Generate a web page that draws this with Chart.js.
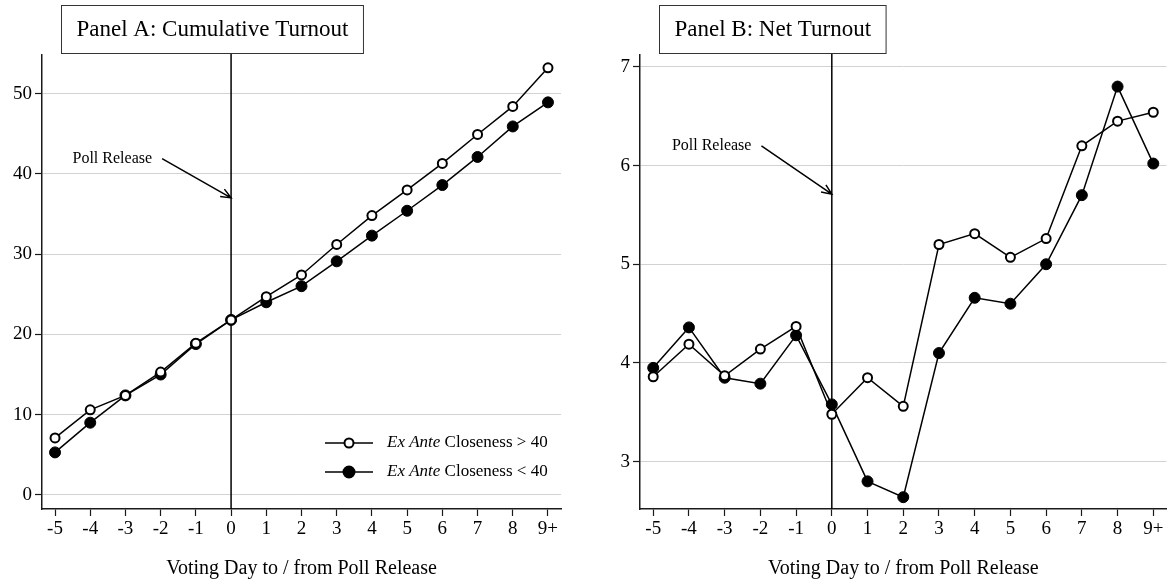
<!DOCTYPE html>
<html>
<head>
<meta charset="utf-8">
<script src="https://cdn.jsdelivr.net/npm/chart.js@4.4.1/dist/chart.umd.min.js"></script>
<style>
  html, body { margin: 0; padding: 0; background: #fff; }
  #wrap { position: relative; width: 1173px; height: 586px; }
  .panel { position: absolute; top: 0; height: 586px; }
  #panelA { left: 0; width: 586px; }
  #panelB { left: 586px; width: 587px; }
</style>
</head>
<body>
<div id="wrap">
  <div class="panel" id="panelA"><canvas id="chartA"></canvas></div>
  <div class="panel" id="panelB"><canvas id="chartB"></canvas></div>
</div>
<script>
// Data
const days = [-5, -4, -3, -2, -1, 0, 1, 2, 3, 4, 5, 6, 7, 8, 9];
const dayLabels = ['-5', '-4', '-3', '-2', '-1', '0', '1', '2', '3', '4', '5', '6', '7', '8', '9+'];

// Panel A: cumulative turnout
const cumHigh = [7.1, 10.6, 12.4, 15.3, 18.9, 21.8, 24.7, 27.4, 31.2, 34.8, 38.0, 41.3, 44.9, 48.4, 53.2];
const cumLow = [5.3, 9.0, 12.4, 15.0, 18.8, 21.8, 24.0, 26.0, 29.1, 32.3, 35.4, 38.6, 42.1, 45.9, 48.9];
const cumTicks = [0, 10, 20, 30, 40, 50];

// Panel B: net turnout
const netHigh = [3.86, 4.19, 3.87, 4.14, 4.37, 3.48, 3.85, 3.56, 5.20, 5.31, 5.07, 5.26, 6.20, 6.45, 6.54];
const netLow = [3.95, 4.36, 3.85, 3.79, 4.28, 3.58, 2.80, 2.64, 4.10, 4.66, 4.60, 5.00, 5.70, 6.80, 6.02];
const netTicks = [3, 4, 5, 6, 7];

const SERIF = "'Liberation Serif', 'Times New Roman', serif";
const INK = '#1a1a1a';

function toPoints(values) {
    return days.map((d, i) => ({ x: d, y: values[i] }));
}

// vertical line at day 0, drawn under the markers
const pollLine = {
    id: 'pollLine',
    beforeDatasetsDraw(chart) {
        const { ctx, chartArea, scales } = chart;
        const x = scales.x.getPixelForValue(0);
        ctx.save();
        ctx.strokeStyle = '#000';
        ctx.lineWidth = 1.5;
        ctx.beginPath();
        ctx.moveTo(x, chartArea.top - 2);
        ctx.lineTo(x, chartArea.bottom);
        ctx.stroke();
        ctx.restore();
    }
};

// panel title box, arrow note, x axis title, legend
const decorations = {
    id: 'decorations',
    afterDraw(chart, args, opts) {
        const { ctx, chartArea, scales } = chart;
        ctx.save();

        // title box
        ctx.font = '23px ' + SERIF;
        const tw = ctx.measureText(opts.title).width;
        const bx = chartArea.left + 19, by = 5, bw = tw + 30, bh = 48;
        ctx.fillStyle = '#fff';
        ctx.fillRect(bx, by, bw, bh);
        ctx.strokeStyle = '#333';
        ctx.lineWidth = 1;
        ctx.strokeRect(bx + 0.5, by + 0.5, bw, bh);
        ctx.fillStyle = '#000';
        ctx.textAlign = 'center';
        ctx.textBaseline = 'middle';
        ctx.fillText(opts.title, bx + bw / 2 + 0.5, by + bh / 2 + 1);

        // "Poll Release" note with arrow
        const n = opts.note;
        const tx = scales.x.getPixelForValue(n.tail[0]);
        const ty = scales.y.getPixelForValue(n.tail[1]);
        const hx = scales.x.getPixelForValue(n.head[0]);
        const hy = scales.y.getPixelForValue(n.head[1]);
        ctx.font = '16px ' + SERIF;
        ctx.textAlign = 'right';
        ctx.fillText('Poll Release', tx - 10, ty);
        ctx.strokeStyle = '#000';
        ctx.lineWidth = 1.5;
        ctx.beginPath();
        ctx.moveTo(tx, ty);
        ctx.lineTo(hx, hy);
        const ang = Math.atan2(hy - ty, hx - tx);
        const len = 11;
        ctx.moveTo(hx - len * Math.cos(ang - 0.4), hy - len * Math.sin(ang - 0.4));
        ctx.lineTo(hx, hy);
        ctx.lineTo(hx - len * Math.cos(ang + 0.4), hy - len * Math.sin(ang + 0.4));
        ctx.stroke();

        // x axis title
        ctx.font = '20px ' + SERIF;
        ctx.textAlign = 'center';
        ctx.fillText('Voting Day to / from Poll Release', (chartArea.left + chartArea.right) / 2, 569);

        // legend (panel A only)
        if (opts.legend) {
            const rows = [
                { y: chartArea.bottom - 66, open: true, sign: '>' },
                { y: chartArea.bottom - 37, open: false, sign: '<' }
            ];
            const x0 = chartArea.right - 236, x1 = chartArea.right - 188;
            rows.forEach(r => {
                ctx.strokeStyle = '#000';
                ctx.lineWidth = 1.5;
                ctx.beginPath();
                ctx.moveTo(x0, r.y);
                ctx.lineTo(x1, r.y);
                ctx.stroke();
                ctx.beginPath();
                ctx.arc((x0 + x1) / 2, r.y, r.open ? 4.5 : 5.5, 0, Math.PI * 2);
                ctx.fillStyle = r.open ? '#fff' : '#000';
                ctx.fill();
                ctx.lineWidth = 2;
                ctx.stroke();
                ctx.fillStyle = '#000';
                ctx.textAlign = 'left';
                let lx = chartArea.right - 174;
                ctx.font = 'italic 17px ' + SERIF;
                ctx.fillText('Ex Ante', lx, r.y);
                lx += ctx.measureText('Ex Ante').width;
                ctx.font = '17px ' + SERIF;
                ctx.fillText(' Closeness ' + r.sign + ' 40', lx, r.y);
            });
        }
        ctx.restore();
    }
};

function makeChart(id, high, low, yMin, yMax, yTicks, yWidth, padRight, note, title, legend) {
    const ctx = document.getElementById(id).getContext('2d');
    return new Chart(ctx, {
        type: 'line',
        data: {
            datasets: [{
                label: 'Ex Ante Closeness > 40',
                data: toPoints(high),
                borderColor: '#000',
                borderWidth: 1.5,
                pointRadius: 4.5,
                pointBorderWidth: 2,
                pointBackgroundColor: '#fff',
                pointBorderColor: '#000',
                tension: 0
            }, {
                label: 'Ex Ante Closeness < 40',
                data: toPoints(low),
                borderColor: '#000',
                borderWidth: 1.5,
                pointRadius: 5.5,
                pointBorderWidth: 1,
                pointBackgroundColor: '#000',
                pointBorderColor: '#000',
                tension: 0
            }]
        },
        options: {
            responsive: true,
            maintainAspectRatio: false,
            animation: false,
            layout: { padding: { top: 55, right: padRight, left: 0, bottom: 0 } },
            scales: {
                x: {
                    type: 'linear',
                    min: -5.37,
                    max: 9.37,
                    afterBuildTicks: (scale) => { scale.ticks = days.map(v => ({ value: v })); },
                    afterFit: (scale) => { scale.height = 77; },
                    ticks: {
                        autoSkip: false,
                        maxRotation: 0,
                        padding: 2,
                        color: '#000',
                        font: { family: SERIF, size: 19 },
                        callback: (v) => dayLabels[days.indexOf(v)]
                    },
                    grid: { drawOnChartArea: false, drawTicks: true, tickLength: 7, tickColor: INK, tickWidth: 1.2 },
                    border: { display: true, color: INK, width: 1.5 }
                },
                y: {
                    min: yMin,
                    max: yMax,
                    afterBuildTicks: (scale) => { scale.ticks = yTicks.map(v => ({ value: v })); },
                    afterFit: (scale) => { scale.width = yWidth; },
                    ticks: {
                        padding: 3,
                        color: '#000',
                        font: { family: SERIF, size: 19 }
                    },
                    grid: { color: '#d2d2d2', lineWidth: 1, drawTicks: true, tickLength: 7, tickColor: INK, tickWidth: 1.2 },
                    border: { display: true, color: INK, width: 1.5 }
                }
            },
            plugins: {
                legend: { display: false },
                tooltip: { enabled: false },
                decorations: { title: title, note: note, legend: legend }
            }
        },
        plugins: [pollLine, decorations]
    });
}

makeChart('chartA', cumHigh, cumLow, -1.75, 54.8, cumTicks, 42, 25,
    { tail: [-1.96, 41.9], head: [0, 37.0] }, 'Panel A: Cumulative Turnout', true);
makeChart('chartB', netHigh, netLow, 2.52, 7.12, netTicks, 54, 3,
    { tail: [-1.97, 6.2], head: [0, 5.71] }, 'Panel B: Net Turnout', false);
</script>
</body>
</html>
